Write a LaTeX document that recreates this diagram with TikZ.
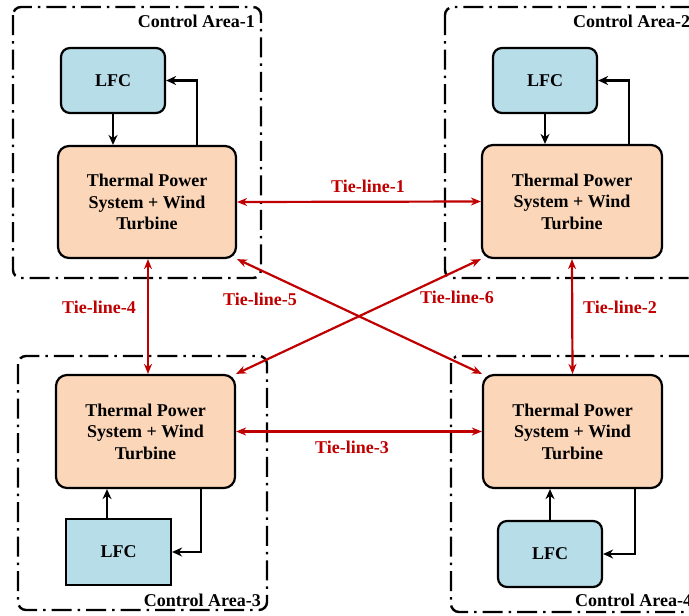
\documentclass[tikz,border=0pt]{standalone}
\usepackage{fontspec}
\setmainfont{Liberation Serif}
\usetikzlibrary{arrows.meta}
\definecolor{tiered}{RGB}{192,0,0}
\definecolor{lfcblue}{RGB}{183,221,232}
\definecolor{tpspeach}{RGB}{251,214,184}
\tikzset{
  areabox/.style={line width=2.4pt, dash pattern=on 20pt off 6pt on 2.5pt off 6pt, rounded corners=8pt},
  lfcbox/.style={draw, line width=2.2pt, fill=lfcblue, rounded corners=9pt, minimum width=104pt, minimum height=65pt, font=\fontsize{18}{21.5}\selectfont\bfseries},
  tpsbox/.style={draw, line width=2.2pt, fill=tpspeach, rounded corners=11pt, minimum width=179pt, minimum height=113pt, align=center, font=\fontsize{18}{21.5}\selectfont\bfseries},
  ctrl/.style={line width=2.3pt, -{Stealth[length=10pt,width=9pt]}},
  tie/.style={draw=tiered, line width=2.2pt, {Stealth[length=10pt,width=8pt]}-{Stealth[length=10pt,width=8pt]}},
  tielabel/.style={text=tiered, font=\fontsize{18}{21.5}\selectfont\bfseries, inner sep=0pt},
  arealabel/.style={font=\fontsize{18}{21.5}\selectfont\bfseries, inner sep=0pt}
}
\begin{document}
\begin{tikzpicture}[x=1pt,y=-1pt]
\useasboundingbox (0,0) rectangle (689,616);
\clip (0,0) rectangle (689,616);
% control areas
\draw[areabox] (13,7) rectangle (261,278);
\draw[areabox] (445,7) rectangle (720,278);
\draw[areabox] (18,356) rectangle (267,610);
\draw[areabox] (451,356) rectangle (720,612);
\node[arealabel, anchor=east] (ca1) at (255,21) {Control Area-1};
\node[arealabel, anchor=west] (ca2) at (573,21) {Control Area-2};
\node[arealabel, anchor=east] (ca3) at (261,600) {Control Area-3};
\node[arealabel, anchor=west] (ca4) at (575,600) {Control Area-4};
% blocks
\node[lfcbox] (LFC1) at (113,80.5) {LFC};
\node[tpsbox, minimum width=178pt, minimum height=112pt] (TPS1) at (147,202) {Thermal Power\\System + Wind\\Turbine};
\node[lfcbox] (LFC2) at (545,80.5) {LFC};
\node[tpsbox, minimum width=180pt] (TPS2) at (572,201.5) {Thermal Power\\System + Wind\\Turbine};
\node[tpsbox] (TPS3) at (145.5,431.5) {Thermal Power\\System + Wind\\Turbine};
\node[lfcbox, rounded corners=0pt, minimum width=105pt, minimum height=66pt] (LFC3) at (118.5,552) {LFC};
\node[tpsbox] (TPS4) at (572.5,431.5) {Thermal Power\\System + Wind\\Turbine};
\node[lfcbox, minimum height=66pt] (LFC4) at (550,554) {LFC};
% control loops
\draw[ctrl] (LFC1.south) -- (TPS1.north -| LFC1.south);
\draw[ctrl] ([xshift=50pt]TPS1.north) |- (LFC1.east);
\draw[ctrl] (LFC2.south) -- (TPS2.north -| LFC2.south);
\draw[ctrl] ([xshift=57pt]TPS2.north) |- (LFC2.east);
\draw[ctrl] ([xshift=-11.5pt]LFC3.north) -- ([xshift=-11.5pt]LFC3.north |- TPS3.south);
\draw[ctrl] ([xshift=55.5pt]TPS3.south) |- (LFC3.east);
\draw[ctrl] (LFC4.north) -- (TPS4.south -| LFC4.north);
\draw[ctrl] ([xshift=62.5pt]TPS4.south) |- (LFC4.east);
% tie lines
\draw[tie] (TPS1.east) -- (TPS2.west);
\draw[tie] (TPS2.south) -- (TPS4.north);
\draw[tie] (TPS3.east) -- (TPS4.west);
\draw[tie] ([xshift=1pt]TPS1.south) -- ([xshift=2.5pt]TPS3.north);
\draw[tie] (TPS1.south east) -- (TPS4.north west);
\draw[tie] (TPS3.north east) -- (TPS2.south west);
\node[tielabel] (t1) at (368,186) {Tie-line-1};
\node[tielabel] (t2) at (620,307) {Tie-line-2};
\node[tielabel] (t3) at (352,447) {Tie-line-3};
\node[tielabel] (t4) at (99,307) {Tie-line-4};
\node[tielabel] (t5) at (260,299) {Tie-line-5};
\node[tielabel] (t6) at (457,297) {Tie-line-6};
\end{tikzpicture}
\end{document}
